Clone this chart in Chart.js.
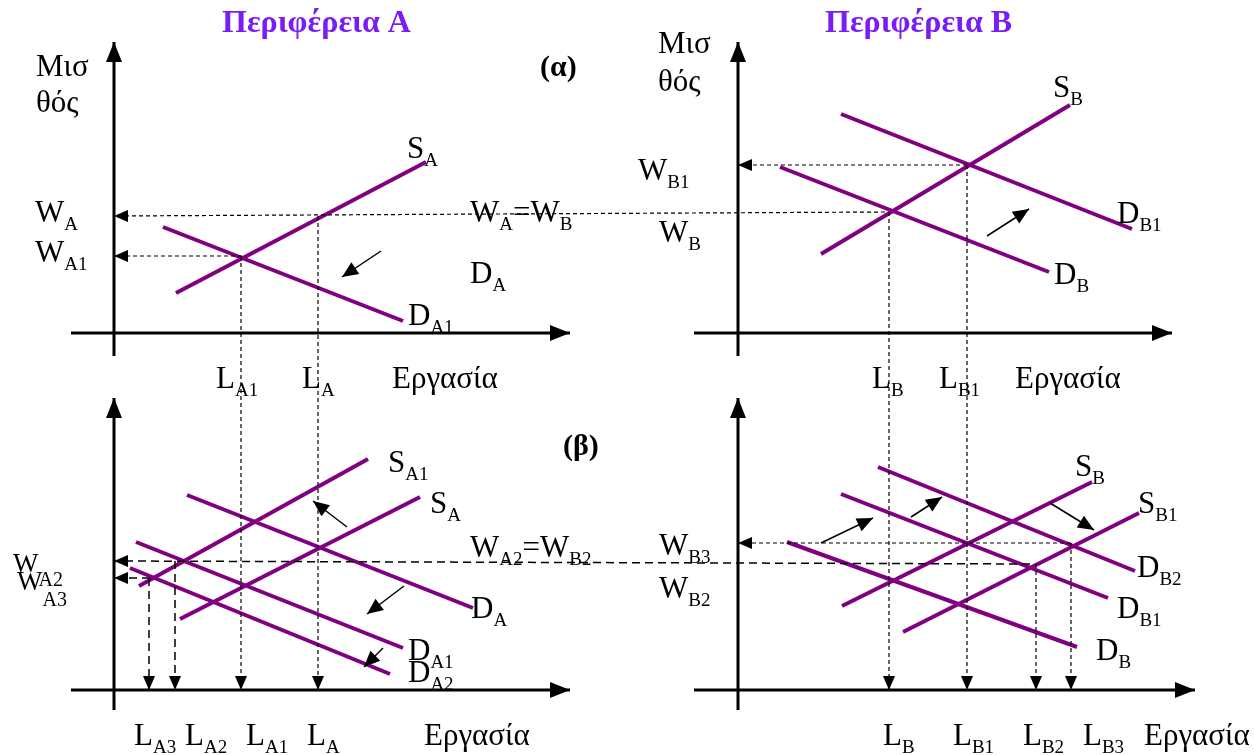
<!DOCTYPE html>
<html>
<head>
<meta charset="utf-8">
<script src="https://cdn.jsdelivr.net/npm/chart.js@4.4.1/dist/chart.umd.min.js"></script>
<style>
  html, body { margin: 0; padding: 0; background: #fff; }
  canvas { display: block; }
</style>
</head>
<body>
<canvas id="myChart" width="1254" height="755"></canvas>
<script>

// panel (α), region A
const supplyA = [[176, 293], [426, 162]];
const demandA1 = [[163, 227], [403, 321]];
// panel (α), region B
const supplyB = [[821, 254], [1070, 105]];
const demandB = [[780, 167], [1049, 272]];
const demandB1 = [[841, 114], [1132, 229]];

// panel (β), region A
const supplyA1b = [[139, 586], [368, 459]];
const supplyAb = [[180, 619], [420, 497]];
const demandAb = [[187, 495], [473, 608]];
const demandA1b = [[136, 542], [403, 648]];
const demandA2b = [[130, 568], [390, 674]];
// panel (β), region B
const supplyBb = [[842, 606], [1092, 482]];
const supplyB1b = [[903, 632], [1139, 513]];
const demandB2b = [[878, 467], [1135, 571]];
const demandB1b = [[841, 494], [1108, 598]];
const demandBb = [[787, 542], [1077, 647]];

// dashed guides, arrow at the second point
const guidesShort = [
  [[242, 256], [114, 256]],   // W_A1
  [[885, 212], [114, 216]],   // W_A = W_B
  [[967, 165], [738, 165]],   // W_B1
  [[241, 256], [241, 690]],   // L_A1
  [[318, 216], [318, 690]],   // L_A
  [[889, 212], [889, 690]],   // L_B
  [[967, 165], [967, 690]],   // L_B1
  [[1071, 543], [738, 543]],  // W_B3
  [[1036, 564], [1036, 690]], // L_B2
  [[1071, 543], [1071, 690]], // L_B3
];
const guidesLong = [
  [[1030, 564], [114, 561]],  // W_A2 = W_B2
  [[150, 578], [114, 578]],   // W_A3
  [[149, 578], [149, 690]],   // L_A3
  [[175, 561], [175, 690]],   // L_A2
];

// shift arrows
const shifts = [
  [[381, 251], [342, 277]],
  [[987, 236], [1029, 209]],
  [[347, 527], [313, 501]],
  [[404, 586], [367, 614]],
  [[383, 648], [364, 667]],
  [[821, 543], [873, 518]],
  [[911, 517], [942, 497]],
  [[1050, 503], [1094, 530]],
];

// axes, arrow at the second point
const axes = [
  [[114, 356], [114, 42]], [[71, 333], [570, 333]],
  [[738, 356], [738, 42]], [[694, 333], [1172, 333]],
  [[114, 710], [114, 398]], [[71, 690], [570, 690]],
  [[738, 710], [738, 398]], [[694, 690], [1195, 690]],
];

// text: [markup, left, baseline]
const labels = [
  ['Μισ', 36, 76], ['θός', 36, 112],
  ['W_{A}', 35, 222], ['W_{A1}', 35, 262],
  ['S_{A}', 407, 158], ['D_{A}', 470, 283], ['D_{A1}', 408, 325],
  ['W_{A}=W_{B}', 470, 222],
  ['L_{A1}', 216, 388], ['L_{A}', 302, 388], ['Εργασία', 392, 388],
  ['Μισ', 658, 53], ['θός', 658, 91],
  ['W_{B1}', 638, 180], ['W_{B}', 659, 242],
  ['S_{B}', 1053, 97], ['D_{B1}', 1117, 223], ['D_{B}', 1054, 284],
  ['L_{B}', 872, 388], ['L_{B1}', 939, 388], ['Εργασία', 1015, 388],
  ['S_{A1}', 388, 472], ['S_{A}', 430, 513], ['D_{A}', 471, 618],
  ['D_{A1}', 408, 660], ['D_{A2}', 408, 682],
  ['W_{A2}=W_{B2}', 470, 557],
  ['L_{A3}', 134, 745], ['L_{A2}', 185, 745], ['L_{A1}', 246, 745], ['L_{A}', 307, 745],
  ['Εργασία', 424, 745],
  ['W_{B3}', 659, 555], ['W_{B2}', 659, 598],
  ['S_{B}', 1075, 476], ['S_{B1}', 1138, 513], ['D_{B2}', 1137, 577],
  ['D_{B1}', 1117, 618], ['D_{B}', 1096, 660],
  ['L_{B}', 883, 745], ['L_{B1}', 953, 745], ['L_{B2}', 1023, 745], ['L_{B3}', 1083, 745],
  ['Εργασία', 1144, 745],
];
const smallLabels = [['W_{A2}', 13, 572, 14], ['W_{A3}', 17, 590, 16]];
const boldLabels = [['(α)', 540, 76], ['(β)', 563, 455]];
const titles = [['Περιφέρεια A', 222, 32], ['Περιφέρεια B', 825, 32]];

const PURPLE = '#800080';
const FONT = '"Liberation Serif", "Times New Roman", serif';

function seg(pts, color, width, dash, arrow) {
  return {
    data: pts.map(p => ({ x: p[0], y: p[1] })),
    showLine: true,
    borderColor: color,
    borderWidth: width,
    borderDash: dash || [],
    borderCapStyle: 'butt',
    pointRadius: 0,
    arrow: arrow || null,
  };
}

const datasets = [];
axes.forEach(a => datasets.push(seg(a, '#000', 3, null, [20, 8])));
guidesShort.forEach(g => datasets.push(seg(g, '#000', 1.2, [4, 3], [14, 6])));
guidesLong.forEach(g => datasets.push(seg(g, '#000', 1.5, [8, 5], [14, 6])));
shifts.forEach(s => datasets.push(seg(s, '#000', 1.5, null, [16, 7])));
[supplyA, demandA1, supplyB, demandB, demandB1,
 supplyA1b, supplyAb, demandAb, demandA1b, demandA2b,
 supplyBb, supplyB1b, demandB2b, demandB1b, demandBb]
  .forEach(c => datasets.push(seg(c, PURPLE, 4)));

function drawRich(ctx, str, x, y, size, subSize, drop, weight) {
  const re = /_\{([^}]*)\}|([^_]+)/g;
  let m, cx = x;
  while ((m = re.exec(str)) !== null) {
    const isSub = m[1] !== undefined;
    const txt = isSub ? m[1] : m[2];
    ctx.font = weight + ' ' + (isSub ? subSize : size) + 'px ' + FONT;
    ctx.fillText(txt, cx, y + (isSub ? drop : 0));
    cx += ctx.measureText(txt).width;
  }
}

const decor = {
  id: 'decor',
  afterDatasetsDraw(chart) {
    const ctx = chart.ctx;
    const xs = chart.scales.x, ys = chart.scales.y;
    ctx.save();
    // arrowheads
    chart.data.datasets.forEach((ds, i) => {
      if (!ds.arrow) return;
      const pts = chart.getDatasetMeta(i).data;
      const a = pts[pts.length - 2], b = pts[pts.length - 1];
      const ang = Math.atan2(b.y - a.y, b.x - a.x);
      const len = ds.arrow[0], half = ds.arrow[1];
      ctx.fillStyle = '#000';
      ctx.beginPath();
      ctx.moveTo(b.x, b.y);
      ctx.lineTo(b.x - len * Math.cos(ang) + half * Math.sin(ang), b.y - len * Math.sin(ang) - half * Math.cos(ang));
      ctx.lineTo(b.x - len * Math.cos(ang) - half * Math.sin(ang), b.y - len * Math.sin(ang) + half * Math.cos(ang));
      ctx.closePath();
      ctx.fill();
    });
    // text
    ctx.textBaseline = 'alphabetic';
    ctx.textAlign = 'left';
    ctx.fillStyle = '#000';
    labels.forEach(l => drawRich(ctx, l[0], xs.getPixelForValue(l[1]), ys.getPixelForValue(l[2]), 31, 19, 8, 'normal'));
    smallLabels.forEach(l => drawRich(ctx, l[0], xs.getPixelForValue(l[1]), ys.getPixelForValue(l[2]), 27, 20, l[3], 'normal'));
    boldLabels.forEach(l => drawRich(ctx, l[0], xs.getPixelForValue(l[1]), ys.getPixelForValue(l[2]), 30, 18, 8, 'bold'));
    ctx.fillStyle = '#7a1cf5';
    titles.forEach(l => drawRich(ctx, l[0], xs.getPixelForValue(l[1]), ys.getPixelForValue(l[2]), 32, 18, 8, 'bold'));
    ctx.restore();
  }
};

const config = {
  type: 'scatter',
  data: { datasets: datasets },
  options: {
    responsive: false,
    animation: false,
    layout: { padding: 0 },
    plugins: {
      legend: { display: false },
      tooltip: { enabled: false },
    },
    scales: {
      x: { type: 'linear', min: 0, max: 1254, display: false },
      y: { type: 'linear', min: 0, max: 755, reverse: true, display: false },
    },
  },
  plugins: [decor],
};

const myChart = new Chart(document.getElementById('myChart'), config);
</script>
</body>
</html>
